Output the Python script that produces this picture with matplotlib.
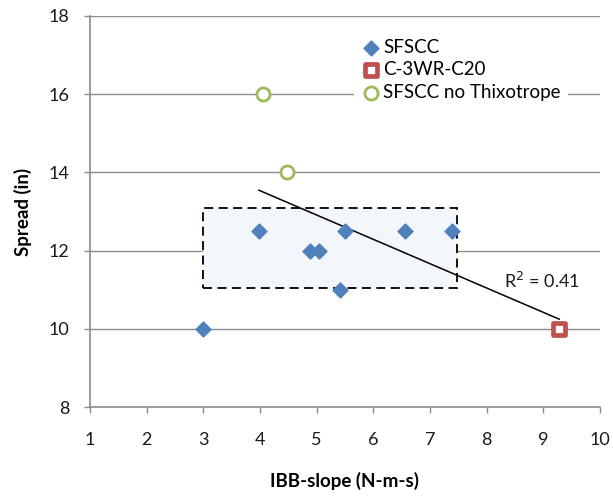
import matplotlib
matplotlib.use("Agg")
import matplotlib.pyplot as plt
from matplotlib.patches import Rectangle
import numpy as np

plt.rcParams['font.family'] = ['Lato', 'DejaVu Sans']

# IBB-slope (N-m-s) vs spread (in)
sfscc_x = [3.0, 3.98, 4.89, 5.05, 5.5, 5.41, 6.56, 7.38]
sfscc_y = [10.0, 12.5, 12.0, 12.0, 12.5, 11.0, 12.5, 12.5]
c3wr_x = [9.28]
c3wr_y = [10.0]
nothix_x = [4.05, 4.48]
nothix_y = [16.0, 14.0]

x_ticks = [1, 2, 3, 4, 5, 6, 7, 8, 9, 10]
y_ticks = [8, 10, 12, 14, 16, 18]

fig = plt.figure(figsize=(6.13, 4.98), dpi=100)
ax = fig.add_axes([0.1468, 0.1827, 0.8320, 0.7853])

ax.set_xlim(1, 10)
ax.set_ylim(8, 18)
ax.set_xticks(x_ticks)
ax.set_yticks(y_ticks)
ax.yaxis.grid(True, color='#8c8c8c', lw=1)
ax.set_axisbelow(True)
for s in ['top', 'right']:
    ax.spines[s].set_visible(False)
for s in ['left', 'bottom']:
    ax.spines[s].set_color('#8c8c8c')
    ax.spines[s].set_linewidth(1.2)
ax.tick_params(axis='both', colors='#8c8c8c', length=4, width=1, labelsize=13,
               labelcolor='#1a1a1a', direction='out')
ax.tick_params(axis='x', pad=14)
ax.tick_params(axis='y', pad=11)

# highlighted region around the SFSCC cluster
box = Rectangle((3.0, 11.05), 4.47, 2.05, facecolor='#f3f6fb', edgecolor='black',
                lw=1.3, ls=(0, (5, 3)), zorder=1.5)
ax.add_patch(box)

ax.scatter(sfscc_x, sfscc_y, marker='D', s=58, color='#4f81bd', zorder=3, label='SFSCC')
ax.scatter(c3wr_x, c3wr_y, marker='s', s=85, facecolor='white', edgecolor='#c0504d',
           linewidths=3.4, zorder=3, label='C-3WR-C20')
ax.scatter(nothix_x, nothix_y, marker='o', s=90, facecolor='white', edgecolor='#9bbb59',
           linewidths=2, zorder=3, label='SFSCC no Thixotrope')

# linear trend over all points except the low SFSCC outlier
fx = np.array(sfscc_x[1:] + c3wr_x + nothix_x)
fy = np.array(sfscc_y[1:] + c3wr_y + nothix_y)
slope, icpt = np.polyfit(fx, fy, 1)
pred = slope * fx + icpt
r2 = 1 - np.sum((fy - pred) ** 2) / np.sum((fy - fy.mean()) ** 2)
xl = np.array([fx.min(), fx.max()])
ax.plot(xl, slope * xl + icpt, color='black', lw=1.1, zorder=2)
ax.text(8.3, 11.05, f"R$^2$ = {r2:.2f}", fontsize=13, color='#1a1a1a')

leg = ax.legend(loc='upper left', bbox_to_anchor=(0.5, 0.985), frameon=True,
                edgecolor='none', facecolor='white', framealpha=1, fontsize=13.5,
                handlelength=1.0, handletextpad=0.15, borderpad=0.4,
                labelspacing=0.3, fancybox=False)

ax.set_xlabel('IBB-slope (N-m-s)', fontsize=13.5, fontweight='bold', labelpad=17)
ax.set_ylabel('Spread (in)', fontsize=13.5, fontweight='bold', labelpad=12)

fig.savefig('out.png', dpi=100)
